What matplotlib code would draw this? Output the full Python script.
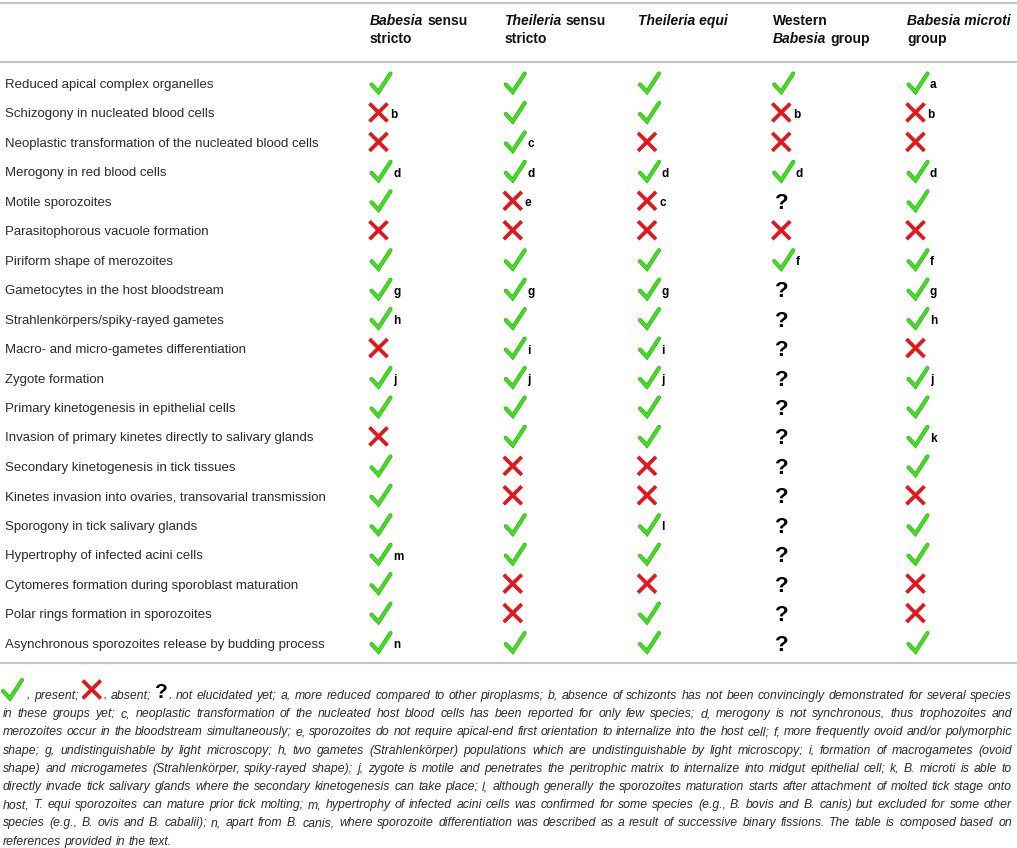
"""
Piroplasm feature comparison table (Babesia / Theileria groups) redrawn
with matplotlib: check / cross / question marks plus footnote letters.
"""
import matplotlib
matplotlib.use("Agg")
import matplotlib.pyplot as plt
import matplotlib.patheffects as pe
from matplotlib import font_manager

plt.rcParams['font.family'] = ['Liberation Sans', 'DejaVu Sans']

W, H = 1017, 848

# header: one list of lines per column, each line a list of (text, style) runs
col_headers = [
    [[("Babesia", "italic"), ("sensu", "normal")], [("stricto", "normal")]],
    [[("Theileria", "italic"), ("sensu", "normal")], [("stricto", "normal")]],
    [[("Theileria equi", "italic")]],
    [[("Western", "normal")], [("Babesia", "italic"), ("group", "normal")]],
    [[("Babesia microti", "italic")], [("group", "normal")]],
]

row_labels = [
    "Reduced apical complex organelles",
    "Schizogony in nucleated blood cells",
    "Neoplastic transformation of the nucleated blood cells",
    "Merogony in red blood cells",
    "Motile sporozoites",
    "Parasitophorous vacuole formation",
    "Piriform shape of merozoites",
    "Gametocytes in the host bloodstream",
    "Strahlenkörpers/spiky-rayed gametes",
    "Macro- and micro-gametes differentiation",
    "Zygote formation",
    "Primary kinetogenesis in epithelial cells",
    "Invasion of primary kinetes directly to salivary glands",
    "Secondary kinetogenesis in tick tissues",
    "Kinetes invasion into ovaries, transovarial transmission",
    "Sporogony in tick salivary glands",
    "Hypertrophy of infected acini cells",
    "Cytomeres formation during sporoblast maturation",
    "Polar rings formation in sporozoites",
    "Asynchronous sporozoites release by budding process",
]

# Y = present, N = absent, Q = not elucidated; trailing letter = footnote
cells = [
    ["Y", "Y", "Y", "Y", "Ya"],
    ["Nb", "Y", "Y", "Nb", "Nb"],
    ["N", "Yc", "N", "N", "N"],
    ["Yd", "Yd", "Yd", "Yd", "Yd"],
    ["Y", "Ne", "Nc", "Q", "Y"],
    ["N", "N", "N", "N", "N"],
    ["Y", "Y", "Y", "Yf", "Yf"],
    ["Yg", "Yg", "Yg", "Q", "Yg"],
    ["Yh", "Y", "Y", "Q", "Yh"],
    ["N", "Yi", "Yi", "Q", "N"],
    ["Yj", "Yj", "Yj", "Q", "Yj"],
    ["Y", "Y", "Y", "Q", "Y"],
    ["N", "Y", "Y", "Q", "Yk"],
    ["Y", "N", "N", "Q", "Y"],
    ["Y", "N", "N", "Q", "N"],
    ["Y", "Y", "Yl", "Q", "Y"],
    ["Ym", "Y", "Y", "Q", "Y"],
    ["Y", "N", "N", "Q", "N"],
    ["Y", "N", "Y", "Q", "N"],
    ["Yn", "Y", "Y", "Q", "Y"],
]

note_lines = [
    "{Y}, present; {N}, absent; {Q}, not elucidated yet; a, more reduced compared to other piroplasms; b, absence of schizonts has not been convincingly demonstrated for several species",
    "in these groups yet; c, neoplastic transformation of the nucleated host blood cells has been reported for only few species; d, merogony is not synchronous, thus trophozoites and",
    "merozoites occur in the bloodstream simultaneously; e, sporozoites do not require apical-end first orientation to internalize into the host cell; f, more frequently ovoid and/or polymorphic",
    "shape; g, undistinguishable by light microscopy; h, two gametes (Strahlenkörper) populations which are undistinguishable by light microscopy; i, formation of macrogametes (ovoid",
    "shape) and microgametes (Strahlenkörper, spiky-rayed shape); j, zygote is motile and penetrates the peritrophic matrix to internalize into midgut epithelial cell; k, B. microti is able to",
    "directly invade tick salivary glands where the secondary kinetogenesis can take place; l, although generally the sporozoites maturation starts after attachment of molted tick stage onto",
    "host, T. equi sporozoites can mature prior tick molting; m, hypertrophy of infected acini cells was confirmed for some species (e.g., B. bovis and B. canis) but excluded for some other",
    "species (e.g., B. ovis and B. cabalii); n, apart from B. canis, where sporozoite differentiation was described as a result of successive binary fissions. The table is composed based on",
    "references provided in the text.",
]

# layout (pixel units)
COL_X0, COL_DX = 370, 134.25
ROW_Y0, ROW_DY = 83, 29.45
HDR_BASE = [25, 43]
RULES_Y = [3, 62, 663]
NOTE_BASE0, NOTE_DY = 699, 18.2
NOTE_LEFT, NOTE_RIGHT = 3, 1012

GREEN, GREEN_EDGE = "#3fe01c", "#27a80f"
RED = "#e3161c"
LINE_GREY = "#c6c6c6"

# a narrower face suits the footnote if one is installed
installed = {f.name for f in font_manager.fontManager.ttflist}
NOTE_FAMILY = ["Liberation Sans Narrow"] if "Liberation Sans Narrow" in installed else ["Liberation Sans"]

fig = plt.figure(figsize=(W / 100, H / 100), dpi=100)
ax = fig.add_axes([0, 0, 1, 1])
ax.set_xlim(0, W)
ax.set_ylim(H, 0)
ax.axis("off")
renderer = fig.canvas.get_renderer()


def text_w(s, **kw):
    t = ax.text(0, 0, s, **kw)
    w = t.get_window_extent(renderer).width
    t.remove()
    return w


def draw_check(x, y):
    # x = left edge, y = vertical centre
    ax.plot([x, x + 7, x + 19], [y + 1.5, y + 9, y - 9.5], color=GREEN, lw=2.1,
            solid_capstyle="round", solid_joinstyle="miter",
            path_effects=[pe.Stroke(linewidth=2.9, foreground=GREEN_EDGE), pe.Normal()])
    return 19


def draw_cross(x, y):
    for ya, yb in [(y - 9, y + 9), (y + 9, y - 9)]:
        ax.plot([x, x + 18], [ya, yb], color=RED, lw=2.7, solid_capstyle="butt")
    return 18


def draw_quest(x, y, fs=16):
    ax.text(x, y + 8, "?", fontsize=fs, fontweight="bold", color="black",
            ha="left", va="baseline")
    return 11


# horizontal rules
for yr in RULES_Y:
    ax.plot([0, W], [yr, yr], color=LINE_GREY, lw=1.6, solid_capstyle="butt")

# column headers
hdr_kw = dict(fontsize=10, fontweight="bold", color="#111111", va="baseline")
sp_hdr = text_w("a a", **hdr_kw) - text_w("aa", **hdr_kw)
for j, lines in enumerate(col_headers):
    for k, runs in enumerate(lines):
        x = COL_X0 + j * COL_DX
        for txt, style in runs:
            ax.text(x, HDR_BASE[k], txt, style=style, **hdr_kw)
            x += text_w(txt, style=style, **hdr_kw) + sp_hdr

# body rows
for i, label in enumerate(row_labels):
    y = ROW_Y0 + i * ROW_DY
    ax.text(5, y + 5, label, fontsize=9.5, color="#2b2b2b", va="baseline")
    for j, code in enumerate(cells[i]):
        x0 = COL_X0 + j * COL_DX
        kind, note = code[0], code[1:]
        if kind == "Y":
            w = draw_check(x0 + 1.5, y)
            gap = 3
        elif kind == "N":
            w = draw_cross(x0 - 0.5, y)
            gap = 1.5
        else:
            w = draw_quest(x0 + 2, y)
            gap = 2
        if note:
            ax.text(x0 + w + gap + 1, y + 5.5, note, fontsize=8.5, fontweight="bold",
                    color="black", va="baseline")

# footnote, justified between NOTE_LEFT and NOTE_RIGHT
marks = {"{Y}": (draw_check, 24), "{N}": (draw_cross, 21),
         "{Q}": (lambda x, y: draw_quest(x, y, 15), 13)}
note_fs = 10.5


def split_token(tok):
    for key in marks:
        if tok.startswith(key):
            return key, tok[len(key):]
    return None, tok


def line_tokens(fs):
    kw = dict(fontsize=fs, style="italic", family=NOTE_FAMILY)
    out = []
    for line in note_lines:
        toks = []
        for tok in line.split(" "):
            key, rest = split_token(tok)
            w = (marks[key][1] if key else 0) + (text_w(rest, **kw) if rest else 0)
            toks.append((key, rest, w))
        out.append(toks)
    sp = text_w("a a", **kw) - text_w("aa", **kw)
    return out, sp


toks_all, sp = line_tokens(note_fs)
widest = max(sum(t[2] for t in toks) + sp * (len(toks) - 1) for toks in toks_all)
if widest > (NOTE_RIGHT - NOTE_LEFT) * 0.995:
    note_fs *= (NOTE_RIGHT - NOTE_LEFT) * 0.995 / widest
    toks_all, sp = line_tokens(note_fs)

for k, toks in enumerate(toks_all):
    base = NOTE_BASE0 + k * NOTE_DY
    total = sum(t[2] for t in toks)
    if k < len(toks_all) - 1:
        gap = (NOTE_RIGHT - NOTE_LEFT - total) / (len(toks) - 1)
    else:
        gap = sp
    x = NOTE_LEFT
    for key, rest, w in toks:
        xt = x
        if key:
            fn, mw = marks[key]
            fn(x, base - 9.5)
            xt = x + mw
        if rest:
            ax.text(xt, base, rest, fontsize=note_fs, style="italic", color="#2b2b2b",
                    family=NOTE_FAMILY, va="baseline")
        x += w + gap

fig.savefig("out.png", dpi=100)
